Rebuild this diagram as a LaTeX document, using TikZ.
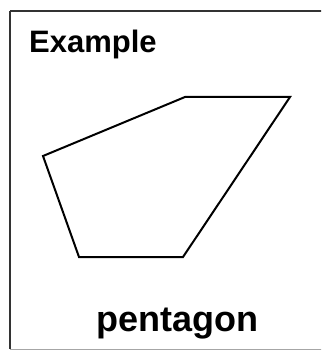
\documentclass[tikz,border=0pt]{standalone}
\usepackage{fontspec}
\setmainfont{Liberation Sans}
\begin{document}
\begin{tikzpicture}[x=1pt,y=-1pt]
	\useasboundingbox (0,0) rectangle (321,352);
	\begin{scope}
		\clip (0,0) rectangle (321,352);
		\draw [line width=1.4pt,color=black!80] (10,11) -- (10,349) (10,11) -- (330,11);
		\draw [line width=1pt,color=black!35] (10,349) -- (330,349);
	\end{scope}
	\node [anchor=base west,inner sep=0pt,font=\fontsize{31}{31}\selectfont\bfseries] at (29,53) (title) {Example};
	\node [anchor=base west,inner sep=0pt,font=\fontsize{36}{36}\selectfont\bfseries] at (96,331) (name) {pentagon};
	\foreach \n/\x/\y in {a/185/97,b/290/97,c/183/257,d/79/257,e/43/156}{
		\coordinate (\n) at (\x,\y);
	}
	\draw [line width=2pt,line join=miter] (a) -- (b) -- (c) -- (d) -- (e) -- cycle;
\end{tikzpicture}
\end{document}
